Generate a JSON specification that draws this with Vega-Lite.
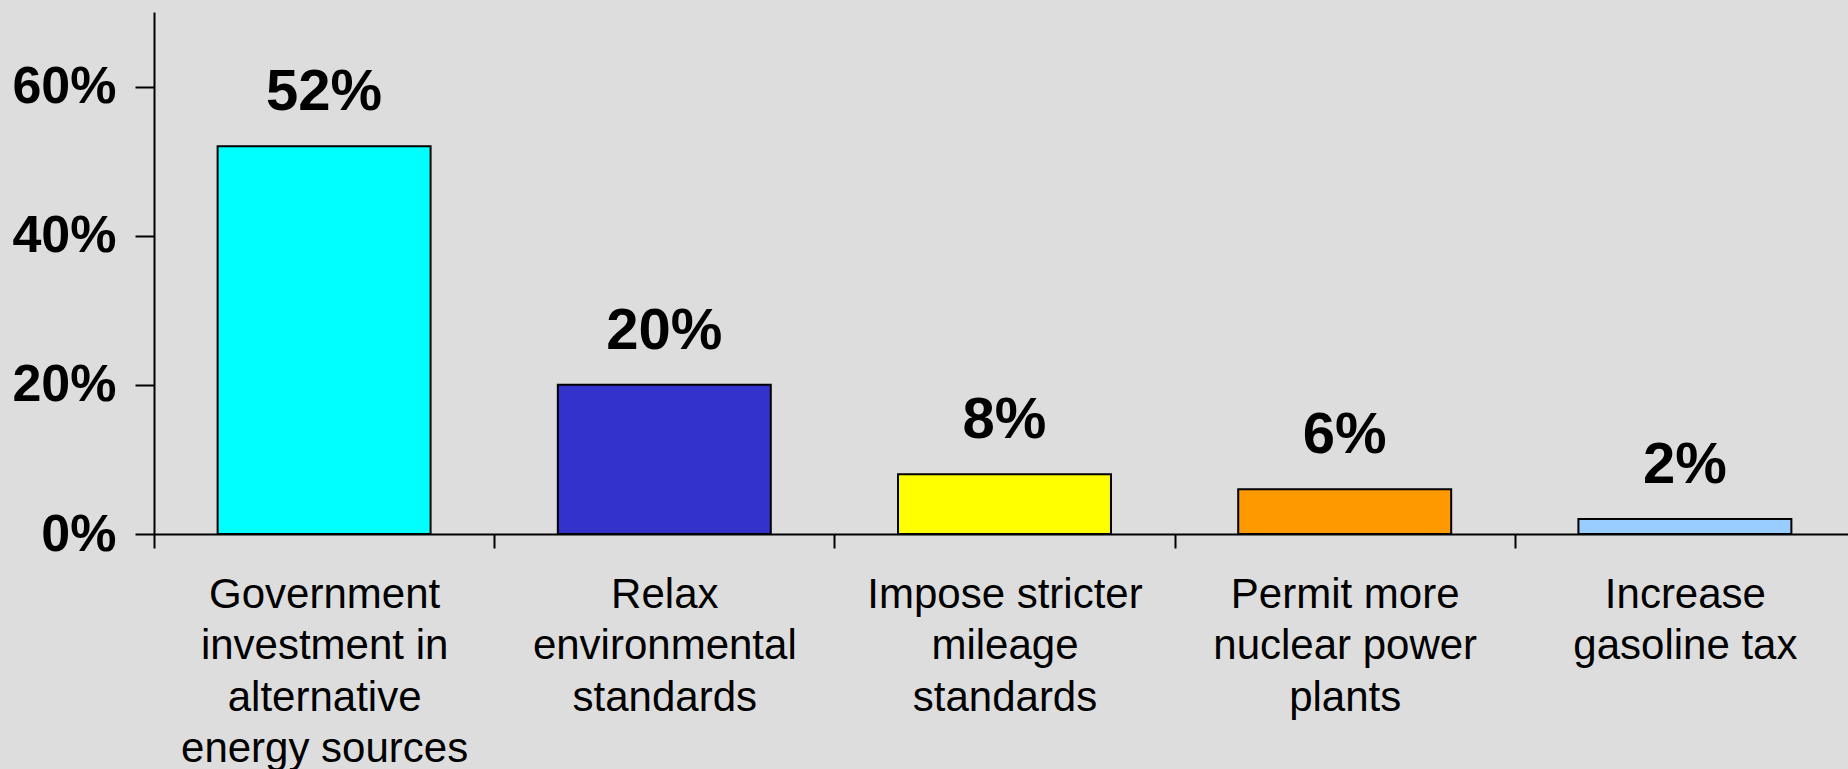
{
  "$schema": "https://vega.github.io/schema/vega-lite/v6.json",
  "width": 1701,
  "height": 522,
  "autosize": {"type": "none"},
  "padding": {"left": 154, "top": 12, "right": 0, "bottom": 235},
  "background": "#DDDDDD",
  "config": {"view": {"stroke": null}, "font": "Liberation Sans"},
  "data": {
    "values": [
      {"option": "Government|investment in|alternative|energy sources", "share": 0.52},
      {"option": "Relax|environmental|standards", "share": 0.20},
      {"option": "Impose stricter|mileage|standards", "share": 0.08},
      {"option": "Permit more|nuclear power|plants", "share": 0.06},
      {"option": "Increase|gasoline tax", "share": 0.02}
    ]
  },
  "encoding": {
    "x": {
      "field": "option",
      "type": "nominal",
      "sort": null,
      "scale": {"paddingInner": 0, "paddingOuter": 0},
      "axis": {
        "title": null,
        "labelAngle": 0,
        "labelExpr": "split(datum.label, '|')",
        "labelFont": "Liberation Sans",
        "labelFontSize": 42,
        "labelLineHeight": 51.5,
        "labelColor": "black",
        "labelBaseline": "top",
        "labelLimit": 0,
        "labelPadding": 26,
        "tickBand": "extent",
        "tickSize": 14,
        "tickColor": "black",
        "tickWidth": 2,
        "domainColor": "black",
        "domainWidth": 2
      }
    },
    "y": {
      "field": "share",
      "type": "quantitative",
      "scale": {"domain": [0, 0.7]},
      "axis": {
        "title": null,
        "values": [0, 0.2, 0.4, 0.6],
        "format": ".0%",
        "grid": false,
        "labelFont": "Liberation Sans",
        "labelFontSize": 52,
        "labelFontWeight": "bold",
        "labelColor": "black",
        "labelPadding": 19,
        "labelFlush": false,
        "labelOverlap": false,
        "tickSize": 19,
        "tickColor": "black",
        "tickWidth": 2,
        "domainColor": "black",
        "domainWidth": 2
      }
    }
  },
  "layer": [
    {
      "mark": {"type": "bar", "stroke": "black", "strokeWidth": 2, "width": {"band": 0.626}},
      "encoding": {
        "color": {
          "field": "option",
          "type": "nominal",
          "sort": null,
          "scale": {
            "domain": [
              "Government|investment in|alternative|energy sources",
              "Relax|environmental|standards",
              "Impose stricter|mileage|standards",
              "Permit more|nuclear power|plants",
              "Increase|gasoline tax"
            ],
            "range": ["#00FFFF", "#3333CC", "#FFFF00", "#FF9900", "#99CCFF"]
          },
          "legend": null
        }
      }
    },
    {
      "mark": {
        "type": "text",
        "baseline": "alphabetic",
        "dy": -36,
        "fontSize": 58,
        "fontWeight": "bold",
        "color": "black",
        "font": "Liberation Sans"
      },
      "encoding": {"text": {"field": "share", "type": "quantitative", "format": ".0%"}}
    }
  ]
}
